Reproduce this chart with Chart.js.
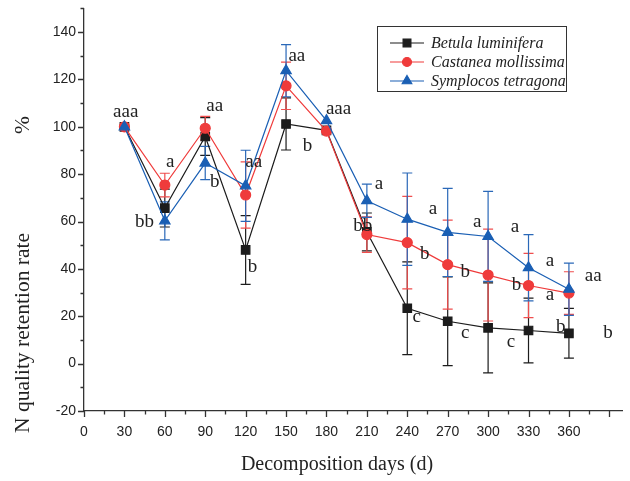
<!DOCTYPE html>
<html>
<head>
<meta charset="utf-8">
<script src="https://cdn.jsdelivr.net/npm/chart.js@4.4.1/dist/chart.umd.min.js"></script>
<style>
    html, body { margin: 0; padding: 0; background: #fff; }
    #wrap { width: 630px; height: 481px; }
</style>
</head>
<body>
<div id="wrap"><canvas id="nChart" width="630" height="481"></canvas></div>
<script>
// Decomposition days
const days = [30, 60, 90, 120, 150, 180, 210, 240, 270, 300, 330, 360];

// N quality retention rate (%) and standard errors
const betula = [100, 65.7, 95.9, 48.0, 101.2, 98.5, 55.6, 23.4, 17.9, 15.1, 14.0, 12.8];
const betulaErr = [0, 8, 8, 14.5, 11, 0, 8, 19.6, 18.7, 19, 13.7, 10.5];
const castanea = [100, 75.4, 99.4, 71.2, 117.3, 98.2, 54.5, 51.1, 41.8, 37.4, 33.0, 29.8];
const castaneaErr = [0, 5, 5, 14, 10, 0, 7.5, 19.5, 18.8, 19.4, 13.6, 9];
const symplocos = [100, 60.3, 84.7, 75.1, 123.7, 102.6, 68.8, 61.0, 55.4, 53.7, 40.5, 31.4];
const symplocosErr = [0, 8, 7, 15, 11, 0, 7, 19.5, 18.6, 19, 14, 11];

// significance letters (day, value, text)
const letterDays = [31, 64, 45, 97, 97, 126, 125, 158, 166, 189, 219, 207, 259, 253, 247, 292, 283, 283, 320, 321, 317, 346, 346, 354, 378, 389];
const letterValues = [106.4, 85.2, 59.7, 108.9, 76.7, 85.2, 40.7, 130.1, 91.9, 107.6, 75.8, 58.1, 65.3, 46.2, 19.5, 59.7, 38.6, 13.1, 57.6, 33.0, 9.3, 43.2, 28.8, 15.3, 36.9, 13.1];
const letterTexts = ['aaa', 'a', 'bb', 'aa', 'b', 'aa', 'b', 'aa', 'b', 'aaa', 'a', 'bb', 'a', 'b', 'c', 'a', 'b', 'c', 'a', 'b', 'c', 'a', 'a', 'b', 'aa', 'b'];

const xTickLabels = [0, 30, 60, 90, 120, 150, 180, 210, 240, 270, 300, 330, 360];
const yTickLabels = [-20, 0, 20, 40, 60, 80, 100, 120, 140];

const BLACK = '#1c1c1c';
const RED = '#ef3b3b';
const BLUE = '#1a5fb4';
const SERIF = '"Liberation Serif", "Times New Roman", serif';
const SANS = '"Liberation Sans", Arial, sans-serif';

function toPoints(values) {
    return days.map((d, i) => ({ x: d, y: values[i] }));
}

const errors = [betulaErr, castaneaErr, symplocosErr];
const errColors = [BLACK, '#f04e4e', '#2a68b8'];

// error bars drawn under the markers
const errorBarPlugin = {
    id: 'errorBars',
    beforeDatasetsDraw(chart) {
        const ctx = chart.ctx;
        const xs = chart.scales.x, ys = chart.scales.y;
        ctx.save();
        ctx.lineWidth = 1.2;
        chart.data.datasets.forEach((ds, k) => {
            ctx.strokeStyle = errColors[k];
            ds.data.forEach((p, i) => {
                const e = errors[k][i];
                if (!e) return;
                const px = xs.getPixelForValue(p.x);
                const top = ys.getPixelForValue(p.y + e);
                const bot = ys.getPixelForValue(p.y - e);
                ctx.beginPath();
                ctx.moveTo(px, top); ctx.lineTo(px, bot);
                ctx.moveTo(px - 5, top); ctx.lineTo(px + 5, top);
                ctx.moveTo(px - 5, bot); ctx.lineTo(px + 5, bot);
                ctx.stroke();
            });
        });
        ctx.restore();
    }
};

// tick marks, axis titles, letters and legend box
const decorPlugin = {
    id: 'decor',
    afterDraw(chart) {
        const ctx = chart.ctx;
        const xs = chart.scales.x, ys = chart.scales.y;
        const area = chart.chartArea;
        ctx.save();
        ctx.strokeStyle = '#333';
        ctx.lineWidth = 1.3;
        ctx.beginPath();
        for (let v = 0; v <= 400; v += 15) {
            const px = Math.round(xs.getPixelForValue(v)) + 0.5;
            const len = v % 30 === 0 ? 6 : 3.5;
            ctx.moveTo(px, area.bottom); ctx.lineTo(px, area.bottom + len);
        }
        for (let v = -20; v <= 150; v += 10) {
            const py = Math.round(ys.getPixelForValue(v)) + 0.5;
            const len = v % 20 === 0 ? 6 : 3.5;
            ctx.moveTo(area.left, py); ctx.lineTo(area.left - len, py);
        }
        ctx.stroke();

        // axis titles
        ctx.fillStyle = '#222';
        ctx.font = '20px ' + SERIF;
        ctx.textAlign = 'center';
        ctx.textBaseline = 'middle';
        ctx.fillText('Decomposition days (d)', 337, 465);
        ctx.save();
        ctx.translate(23, 0);
        ctx.rotate(-Math.PI / 2);
        ctx.font = '21.5px ' + SERIF;
        ctx.textAlign = 'left';
        ctx.fillText('N quality retention rate', -433, 0);
        ctx.textAlign = 'center';
        ctx.fillText('%', -125, 0);
        ctx.restore();

        // significance letters
        ctx.font = '19px ' + SERIF;
        ctx.fillStyle = '#222';
        letterTexts.forEach((t, i) => {
            ctx.fillText(t, xs.getPixelForValue(letterDays[i]), ys.getPixelForValue(letterValues[i]));
        });

        // legend
        ctx.strokeStyle = '#333';
        ctx.lineWidth = 1;
        ctx.strokeRect(377.5, 26.5, 189, 65);
        ctx.font = 'italic 16px ' + SERIF;
        ctx.textAlign = 'left';
        const rows = [43, 62, 81];
        chart.data.datasets.forEach((ds, k) => {
            const y = rows[k];
            ctx.strokeStyle = ds.borderColor;
            ctx.lineWidth = 1.2;
            ctx.beginPath();
            ctx.moveTo(390, y); ctx.lineTo(424, y);
            ctx.stroke();
            ctx.fillStyle = ds.pointBackgroundColor;
            ctx.strokeStyle = ds.pointBorderColor;
            Chart.helpers.drawPoint(ctx, {
                pointStyle: ds.pointStyle,
                radius: ds.pointRadius - 0.5,
                borderWidth: 1,
                rotation: 0
            }, 407, y);
            ctx.fillStyle = '#222';
            ctx.fillText(ds.label, 431, y + 1);
        });
        ctx.restore();
    }
};

document.addEventListener('DOMContentLoaded', function() {
    const ctx = document.getElementById('nChart').getContext('2d');
    new Chart(ctx, {
        type: 'line',
        data: {
            datasets: [{
                label: 'Betula luminifera',
                data: toPoints(betula),
                borderColor: BLACK,
                borderWidth: 1.2,
                pointStyle: 'rect',
                pointRadius: 6,
                pointBackgroundColor: BLACK,
                pointBorderColor: BLACK,
                order: 2
            }, {
                label: 'Castanea mollissima',
                data: toPoints(castanea),
                borderColor: RED,
                borderWidth: 1.2,
                pointStyle: 'circle',
                pointRadius: 5,
                pointBackgroundColor: RED,
                pointBorderColor: RED,
                order: 1
            }, {
                label: 'Symplocos tetragona',
                data: toPoints(symplocos),
                borderColor: BLUE,
                borderWidth: 1.2,
                pointStyle: 'triangle',
                pointRadius: 6,
                pointBackgroundColor: BLUE,
                pointBorderColor: BLUE,
                order: 0
            }]
        },
        options: {
            responsive: false,
            animation: false,
            devicePixelRatio: 1,
            layout: { padding: { top: 6, left: 0, right: 0, bottom: 0 } },
            plugins: {
                legend: { display: false },
                tooltip: { enabled: false }
            },
            scales: {
                x: {
                    type: 'linear',
                    min: 0,
                    max: 400,
                    grid: { display: false },
                    border: { display: true, color: '#333', width: 1.3 },
                    afterFit(scale) { scale.height = 70; },
                    afterBuildTicks(scale) {
                        scale.ticks = xTickLabels.map(v => ({ value: v }));
                    },
                    ticks: {
                        autoSkip: false,
                        maxRotation: 0,
                        padding: 5,
                        color: '#222',
                        font: { family: SANS, size: 14 }
                    }
                },
                y: {
                    min: -20,
                    max: 150,
                    grid: { display: false },
                    border: { display: true, color: '#333', width: 1.3 },
                    afterFit(scale) { scale.width = 84; },
                    afterBuildTicks(scale) {
                        scale.ticks = yTickLabels.map(v => ({ value: v }));
                    },
                    ticks: {
                        padding: 0,
                        color: '#222',
                        font: { family: SANS, size: 14 }
                    }
                }
            }
        },
        plugins: [errorBarPlugin, decorPlugin]
    });
});
</script>
</body>
</html>
